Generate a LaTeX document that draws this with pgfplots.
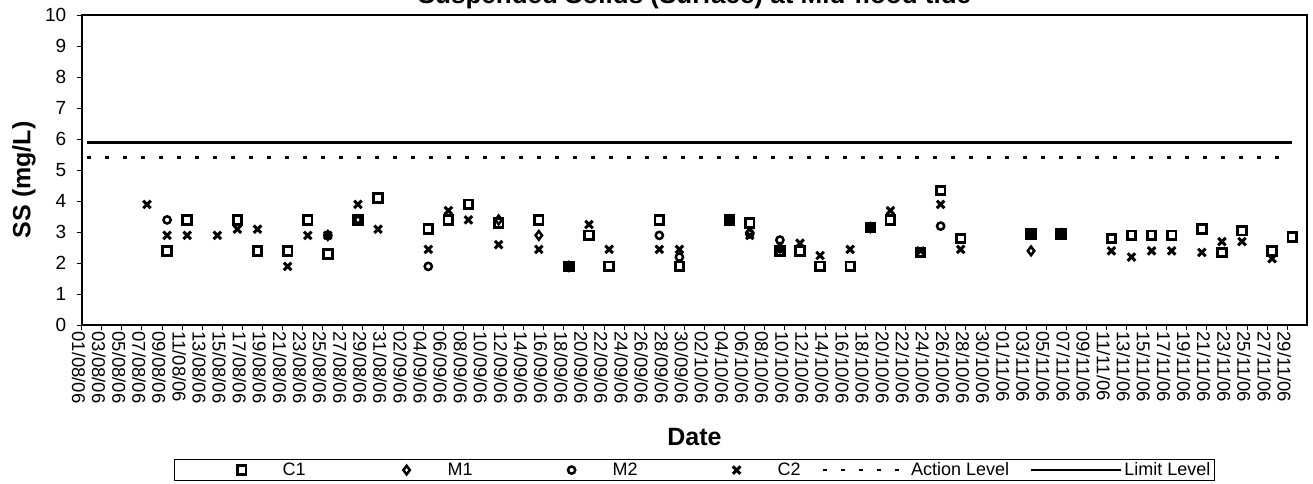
\documentclass[border=0pt]{standalone}
\usepackage{fontspec}
\setmainfont{Liberation Sans}
\usepackage{pgfplots}
\pgfplotsset{compat=1.18}
\usepackage{pgfplotstable}

% legend pictures: room on the left, then a mark or a line of given length
\pgfplotsset{
  markimg/.style={legend image code/.code={\path[draw=none,fill=none] (-#1,-6pt) (39pt,6pt); \draw[##1] plot coordinates {(0pt,0pt)};}},
  lineimg/.style 2 args={legend image code/.code={\path[draw=none,fill=none] (-#1,-6pt) (0pt,6pt); \draw[##1] (0pt,0pt) -- (#2,0pt);}},
}

% day 0 = 01/08/06
\pgfplotstableread{
day ss
8   2.4
10  3.4
15  3.4
17  2.4
20  2.4
22  3.4
24  2.3
27  3.4
29  4.1
34  3.1
36  3.4
38  3.9
41  3.3
45  3.4
48  1.9
50  2.9
52  1.9
57  3.4
59  1.9
64  3.4
66  3.3
69  2.4
71  2.4
73  1.9
76  1.9
78  3.15
80  3.4
83  2.35
85  4.35
87  2.8
94  2.95
97  2.95
102 2.8
104 2.9
106 2.9
108 2.9
111 3.1
113 2.35
115 3.05
118 2.4
120 2.85
}\cone

\pgfplotstableread{
day ss
24  2.9
27  3.4
41  3.4
45  2.9
48  1.9
64  3.4
66  3.0
69  2.5
78  3.15
94  2.4
97  2.95
}\mone

\pgfplotstableread{
day ss
8   3.4
24  2.9
34  1.9
48  1.9
57  2.9
59  2.2
64  3.4
66  2.95
69  2.75
78  3.15
85  3.2
94  2.95
97  2.95
}\mtwo

\pgfplotstableread{
day ss
6   3.9
8   2.9
10  2.9
13  2.9
15  3.1
17  3.1
20  1.9
22  2.9
24  2.9
27  3.9
29  3.1
34  2.45
36  3.7
38  3.4
41  2.6
45  2.45
48  1.9
50  3.25
52  2.45
57  2.45
59  2.45
64  3.4
66  2.9
69  2.45
71  2.65
73  2.25
76  2.45
78  3.15
80  3.7
83  2.4
85  3.9
87  2.45
94  2.95
97  2.95
102 2.4
104 2.2
106 2.4
108 2.4
111 2.35
113 2.7
115 2.7
118 2.15
}\ctwo

\begin{document}
\begin{tikzpicture}[x=1pt,y=1pt]
\useasboundingbox (0,0) rectangle (1313,484);
\begin{axis}[
  at={(81.7pt,158.7pt)}, anchor=south west,
  scale only axis, width=1225.6pt, height=310pt,
  xmin=0, xmax=122, ymin=0, ymax=10,
  xtick={0,2,...,120},
  xticklabels={01/08/06,03/08/06,05/08/06,07/08/06,09/08/06,11/08/06,13/08/06,15/08/06,17/08/06,19/08/06,21/08/06,23/08/06,25/08/06,27/08/06,29/08/06,31/08/06,
    02/09/06,04/09/06,06/09/06,08/09/06,10/09/06,12/09/06,14/09/06,16/09/06,18/09/06,20/09/06,22/09/06,24/09/06,26/09/06,28/09/06,30/09/06,
    02/10/06,04/10/06,06/10/06,08/10/06,10/10/06,12/10/06,14/10/06,16/10/06,18/10/06,20/10/06,22/10/06,24/10/06,26/10/06,28/10/06,30/10/06,
    01/11/06,03/11/06,05/11/06,07/11/06,09/11/06,11/11/06,13/11/06,15/11/06,17/11/06,19/11/06,21/11/06,23/11/06,25/11/06,27/11/06,29/11/06},
  ytick={0,1,...,10},
  xtick pos=bottom, ytick pos=left,
  tick align=outside, major tick length=5pt,
  tick style={black, line width=1pt},
  axis line style={line width=2.2pt},
  /pgf/number format/assume math mode=true,
  x tick label style={rotate=-90, anchor=west, font=\fontsize{18.5}{18.5}\selectfont, inner sep=1pt, yshift=-3pt},
  y tick label style={font=\fontsize{19}{19}\selectfont, xshift=-7pt},
  xlabel={Date},
  xlabel style={at={(axis description cs:0.5,-0.389)}, anchor=base, font=\bfseries\fontsize{25}{25}\selectfont},
  ylabel={SS (mg/L)},
  ylabel style={at={(axis description cs:-0.0471,0.469)}, anchor=center, font=\bfseries\fontsize{25}{25}\selectfont},
  title={Suspended Solids (Surface) at Mid-flood tide},
  title style={at={(axis description cs:0.5,1.0187)}, anchor=base, font=\bfseries\fontsize{26}{26}\selectfont},
  legend columns=6,
  legend style={at={(0.5,-0.467)}, anchor=center, draw=black, line width=1.4pt,
    font=\fontsize{18}{18}\selectfont, inner xsep=2pt, inner ysep=1pt,
    nodes={inner xsep=2pt, inner ysep=2pt}},
]
\addplot[only marks, mark=square, mark size=4.3pt, line width=2.8pt, black, markimg=65pt]
  table[x expr=\thisrow{day}+0.5, y=ss] {\cone};
\addlegendentry{C1}
\addplot[only marks, mark=diamond, mark size=4.3pt, line width=2.5pt, black, markimg=99pt]
  table[x expr=\thisrow{day}+0.5, y=ss] {\mone};
\addlegendentry{M1}
\addplot[only marks, mark=o, mark size=3.6pt, line width=2.5pt, black, markimg=97pt]
  table[x expr=\thisrow{day}+0.5, y=ss] {\mtwo};
\addlegendentry{M2}
\addplot[only marks, mark=x, mark size=5.3pt, line width=3pt, black, markimg=97pt]
  table[x expr=\thisrow{day}+0.5, y=ss] {\ctwo};
\addlegendentry{C2}
\addplot[black, line width=2.8pt, dash pattern=on 4pt off 14pt, lineimg={20pt}{85pt}]
  coordinates {(0.5,5.4) (120.5,5.4)};
\addlegendentry{Action Level}
\addplot[black, line width=2.5pt, lineimg={20pt}{90pt}]
  coordinates {(0.5,5.9) (120.5,5.9)};
\addlegendentry{Limit Level}
\end{axis}
\end{tikzpicture}
\end{document}
